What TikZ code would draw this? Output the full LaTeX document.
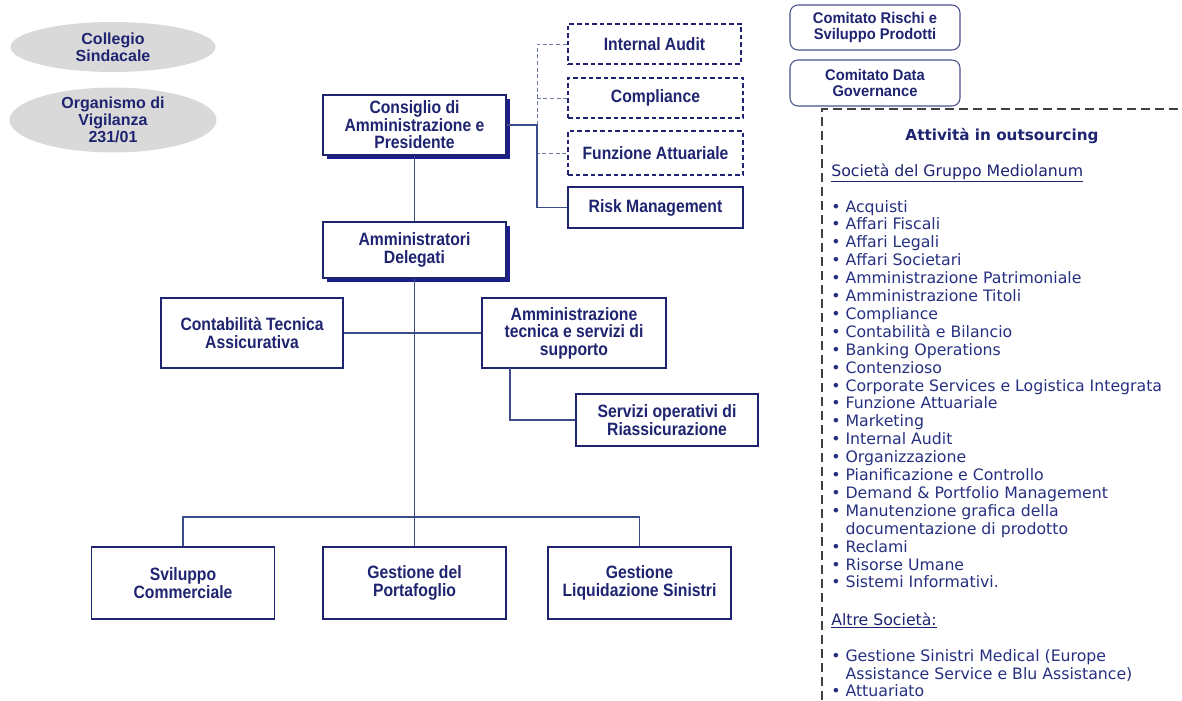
\documentclass[tikz,border=0pt]{standalone}
\usepackage{fontspec}
\setmainfont{Liberation Sans}
\newfontfamily\boxfont[FakeStretch=0.88]{Liberation Sans}
\newfontfamily\comfont[FakeStretch=0.95]{Liberation Sans}
\newfontfamily\listfont{DejaVu Sans}
\usetikzlibrary{shapes.geometric,shadows}
\definecolor{navy}{RGB}{30,36,112}
\definecolor{listc}{RGB}{38,48,128}
\definecolor{linec}{RGB}{62,76,138}
\definecolor{dashc}{RGB}{110,122,168}
\definecolor{ellgray}{RGB}{217,217,217}
\definecolor{shadc}{RGB}{28,30,140}
\begin{document}
\begin{tikzpicture}[x=0.75pt,y=-0.75pt,
  wh/.style 2 args={minimum width=#1*0.75pt, minimum height=#2*0.75pt},
  orgbox/.style={draw=navy, line width=0.8pt, fill=white, text=navy, align=center, inner sep=0pt,
    font=\boxfont\bfseries\fontsize{13.4}{13.2}\selectfont},
  dbox/.style={orgbox, dash pattern=on 3.5pt off 2.2pt},
  shad/.style={drop shadow={shadow xshift=3.2pt, shadow yshift=-3.2pt, fill=shadc, opacity=1}},
  ell/.style={ellipse, fill=ellgray, draw=none, inner sep=0pt, text=navy, align=center,
    font=\bfseries\fontsize{12}{12.75}\selectfont},
  combox/.style={draw=navy!80, line width=0.8pt, rounded corners=6pt, fill=white, text=navy, align=center, inner sep=0pt,
    font=\comfont\bfseries\fontsize{11.6}{12}\selectfont},
  conn/.style={draw=linec, line width=1pt},
  dconn/.style={draw=dashc, line width=0.7pt, dash pattern=on 3pt off 2pt},
  li/.style={anchor=base west, inner sep=0pt, text=listc, font=\listfont\fontsize{11.8}{13.4}\selectfont},
  lh/.style={li, text=navy}
]
\useasboundingbox (0,0) rectangle (1182,700);

% ellipses
\node[ell, wh={205}{50}] (cs) at (113,47) {Collegio\\Sindacale};
\node[ell, wh={207}{56}] (ov) at (113,120) {Organismo di\\Vigilanza\\231/01};

% main boxes
\node[orgbox, shad, wh={183}{60}] (cons) at (414.5,125) {Consiglio di\\Amministrazione e\\Presidente};
\node[orgbox, shad, wh={183}{56}] (amd) at (414.5,250) {Amministratori\\Delegati};

\node[dbox, wh={173}{40}] (ia) at (654.5,44) {Internal Audit};
\node[dbox, wh={175}{40}] (comp) at (655.5,98) {Compliance};
\node[dbox, wh={175}{44}] (fa) at (655.5,153) {Funzione Attuariale};
\node[orgbox, wh={175}{41}] (rm) at (655.5,207.5) {Risk Management};

\node[orgbox, wh={182}{70}] (cta) at (252,333) {Contabilità Tecnica\\Assicurativa};
\node[orgbox, wh={184}{70}] (ats) at (574,333) {Amministrazione\\tecnica e servizi di\\supporto};
\node[orgbox, wh={182}{52}] (sor) at (667,420) {Servizi operativi di\\Riassicurazione};

\node[orgbox, wh={183}{72}] (svc) at (183,583) {Sviluppo\\Commerciale};
\node[orgbox, wh={183}{72}] (gdp) at (414.5,583) {Gestione del\\Portafoglio};
\node[orgbox, wh={183}{72}] (gls) at (639.5,583) {Gestione\\Liquidazione Sinistri};

\node[combox, wh={170}{45}] (cr) at (875,27.5) {Comitato Rischi e\\Sviluppo Prodotti};
\node[combox, wh={170}{46}] (cdg) at (875,83) {Comitato Data\\Governance};

% connectors
\coordinate (jr) at (537,125);
\coordinate (bus) at (414.5,517);
\coordinate (atsd) at (510,368);
\draw[dconn] (jr) |- (ia.west);
\draw[dconn] (jr) |- (comp.west);
\draw[dconn] (jr) |- (fa.west);
\draw[conn] (cons.east) -- (jr) |- (rm.west);
\draw[conn] (cons.south) -- (amd.north);
\draw[conn] (amd.south) -- (bus);
\draw[conn] (cta.east) -- (ats.west);
\draw[conn] (atsd) |- (sor.west);
\draw[conn] (svc.north) -- (svc.north |- bus) -- (gls.north |- bus) -- (gls.north);
\draw[conn] (bus) -- (gdp.north);

% outsourcing panel
\coordinate (pbl) at (822,700);
\coordinate (ptl) at (822,109);
\coordinate (ptr) at (1182,109);
\draw[draw=black!75, line width=0.8pt, dash pattern=on 7pt off 3.5pt] (pbl) -- (ptl) -- (ptr);

\node[anchor=base, inner sep=0pt, text=navy, font=\listfont\bfseries\fontsize{11.4}{13.4}\selectfont] (ttl) at (1002,140) {Attività in outsourcing};
\node[lh] (h1) at (831,176) {\underline{Società del Gruppo Mediolanum}};

\foreach \t [count=\i] in {%
  {• Acquisti},{• Affari Fiscali},{• Affari Legali},{• Affari Societari},
  {• Amministrazione Patrimoniale},{• Amministrazione Titoli},{• Compliance},
  {• Contabilità e Bilancio},{• Banking Operations},{• Contenzioso},
  {• Corporate Services e Logistica Integrata},{• Funzione Attuariale},{• Marketing},
  {• Internal Audit},{• Organizzazione},{• Pianificazione e Controllo},
  {• Demand \& Portfolio Management},{• Manutenzione grafica della},
  {\phantom{• }documentazione di prodotto},{• Reclami},{• Risorse Umane},{• Sistemi Informativi.}}
  \node[li] (l\i) at (831,{207+(\i-1)*17.9+5}) {\t};

\node[lh] (h2) at (831,625) {\underline{Altre Società:}};
\node[li] (m1) at (831,661) {• Gestione Sinistri Medical (Europe};
\node[li] (m2) at (831,679) {\phantom{• }Assistance Service e Blu Assistance)};
\node[li] (m3) at (831,696) {• Attuariato};
\end{tikzpicture}
\end{document}
